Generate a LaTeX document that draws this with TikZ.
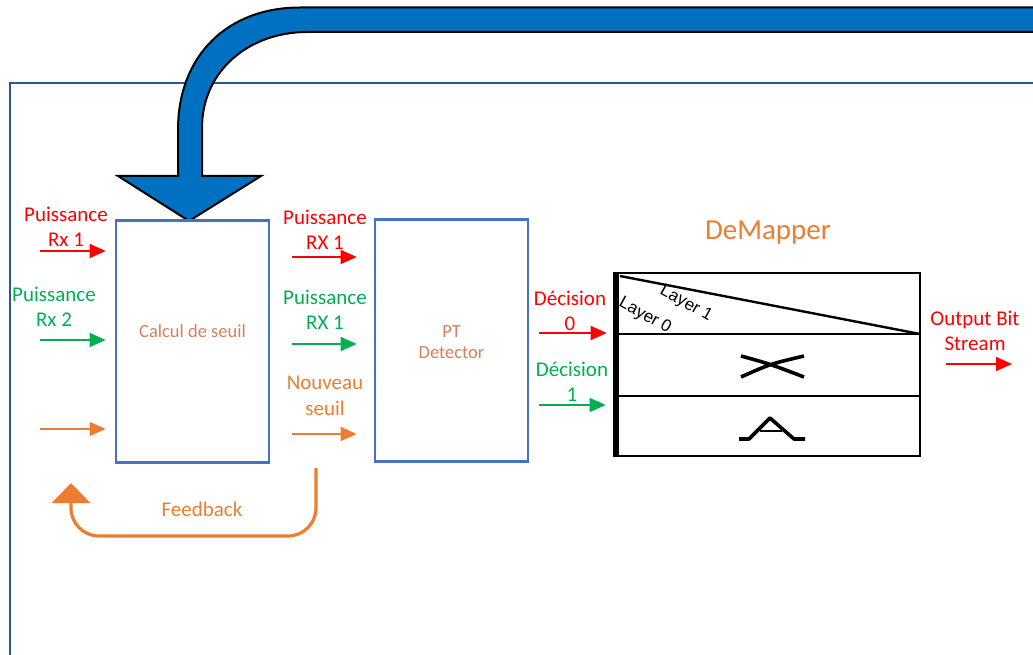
\documentclass[tikz,border=0pt]{standalone}
\usepackage{fontspec}
\setmainfont{Carlito}
\newfontfamily\layerfont{Liberation Sans}
\usetikzlibrary{arrows.meta,positioning}

\definecolor{pred}{RGB}{255,0,0}
\definecolor{pgreen}{RGB}{0,176,80}
\definecolor{porange}{RGB}{237,125,49}
\definecolor{pbrown}{RGB}{212,128,92}
\definecolor{boxblue}{RGB}{68,114,196}
\definecolor{frameblue}{RGB}{47,85,151}
\definecolor{arrowblue}{RGB}{0,112,192}

\begin{document}
\begin{tikzpicture}[x=1pt,y=-1pt,
  box/.style={draw=boxblue,line width=2.6pt,minimum width=153pt,minimum height=242pt,inner sep=0pt},
  lbl/.style={align=center,font=\fontsize{21}{25.5}\selectfont,inner sep=0pt},
  inner/.style={align=center,font=\fontsize{18.5}{21}\selectfont,text=pbrown,inner sep=0pt},
  layer/.style={rotate=-29,font=\layerfont\fontsize{17}{17}\selectfont,inner sep=0pt},
  sig/.style={line width=1.5pt,-{Triangle[length=16pt,width=14pt]}}]

\useasboundingbox (0,0) rectangle (1033,655);
\clip (0,0) rectangle (1033,655);

\draw[frameblue,line width=2.6pt] (10,700) -- (10,83) -- (1100,83);

\filldraw[fill=arrowblue,draw=black,line width=2pt] (1100,7.5) -- (300,7.5)
  .. controls (228,7.5) and (178,55) .. (178,130) -- (178,176) -- (118,176)
  -- (189,221) -- (261,176) -- (202,176) -- (202,128)
  .. controls (202,70) and (250,32) .. (307,32) -- (1100,32) -- cycle;

\node[box] (calc) at (192.5,341.5) {};
\node[inner] (calctxt) at ([yshift=10pt]calc.center) {Calcul de seuil};
\node[box] (ptd) at (451.5,340.5) {};
\node[inner] (pttxt) at ([yshift=-2pt]ptd.center) {PT\\Detector};

\foreach \y/\c in {251/pred,340/pgreen,429/porange}{
	\coordinate (cin\y) at (40,\y);
	\draw[sig,\c] (cin\y) -- ([xshift=-9pt]calc.west |- cin\y);
}
\foreach \y/\c in {257/pred,344/pgreen,434/porange}{
	\coordinate (pin\y) at (292,\y);
	\draw[sig,\c] (pin\y) -- ([xshift=-17pt]ptd.west |- pin\y);
}

\node[lbl,text=pred] (rx1) at (66,227) {Puissance\\Rx 1};
\node[lbl,text=pgreen] (rx2) at (54,307) {Puissance\\Rx 2};
\node[lbl,text=pred] (prx1) at (325,230) {Puissance\\RX 1};
\node[lbl,text=pgreen] (grx1) at (325,310) {Puissance\\RX 1};
\node[lbl,text=porange] (nseuil) at (325,396) {Nouveau\\seuil};

\coordinate (fbs) at (316,468);
\coordinate (fbe) at (71,483);
\draw[porange,line width=3.2pt,rounded corners=28pt,-{Triangle[length=20pt,width=38pt]}]
  (fbs) -- (316,536) -- (71,536) -- (fbe);
\node[lbl,text=porange] (fb) at (202,509) {Feedback};

\node[font=\fontsize{29}{34}\selectfont,text=porange] (dmtitle) at (768,233) {DeMapper};
\node[draw,line width=2.6pt,minimum width=303pt,minimum height=183pt,inner sep=0pt] (dmap) at (768.5,364.5) {};
\draw[line width=2.6pt] (617,334) -- (920,334) (617,396) -- (920,396);
\draw[line width=2.4pt] (620,276) -- (920,334);
\begin{scope}
\clip (617,273) rectangle (920,334);
\node[layer] (l1) at (686,304) {Layer 1};
\node[layer] (l0) at (645,316) {Layer 0};
\end{scope}
\draw[line width=6pt] (dmap.north west) -- (dmap.south west);

\draw[line width=3.6pt] (741,356) .. controls (770,364) .. (804,377) (741,377) .. controls (770,364) .. (804,356);
\draw[line width=3.6pt,line join=round] (739,439) -- (749,439) -- (770,418) -- (794,439) -- (805,439);
\draw[line width=2.4pt] (760,431) -- (782,431);

\coordinate (d0) at (539,333);
\coordinate (d1) at (539,405);
\draw[sig,pred] (d0) -- ([xshift=-9pt]dmap.west |- d0);
\draw[sig,pgreen] (d1) -- ([xshift=-10pt]dmap.west |- d1);
\node[lbl,text=pred] (dec0) at (570,311) {Décision\\0};
\node[lbl,text=pgreen] (dec1) at (572,382) {Décision\\1};

\coordinate (obs) at (1012,364);
\draw[sig,pred] ([xshift=-66pt]obs) -- (obs);
\node[lbl,text=pred] (obst) at (975,331) {Output Bit\\Stream};

\end{tikzpicture}
\end{document}
